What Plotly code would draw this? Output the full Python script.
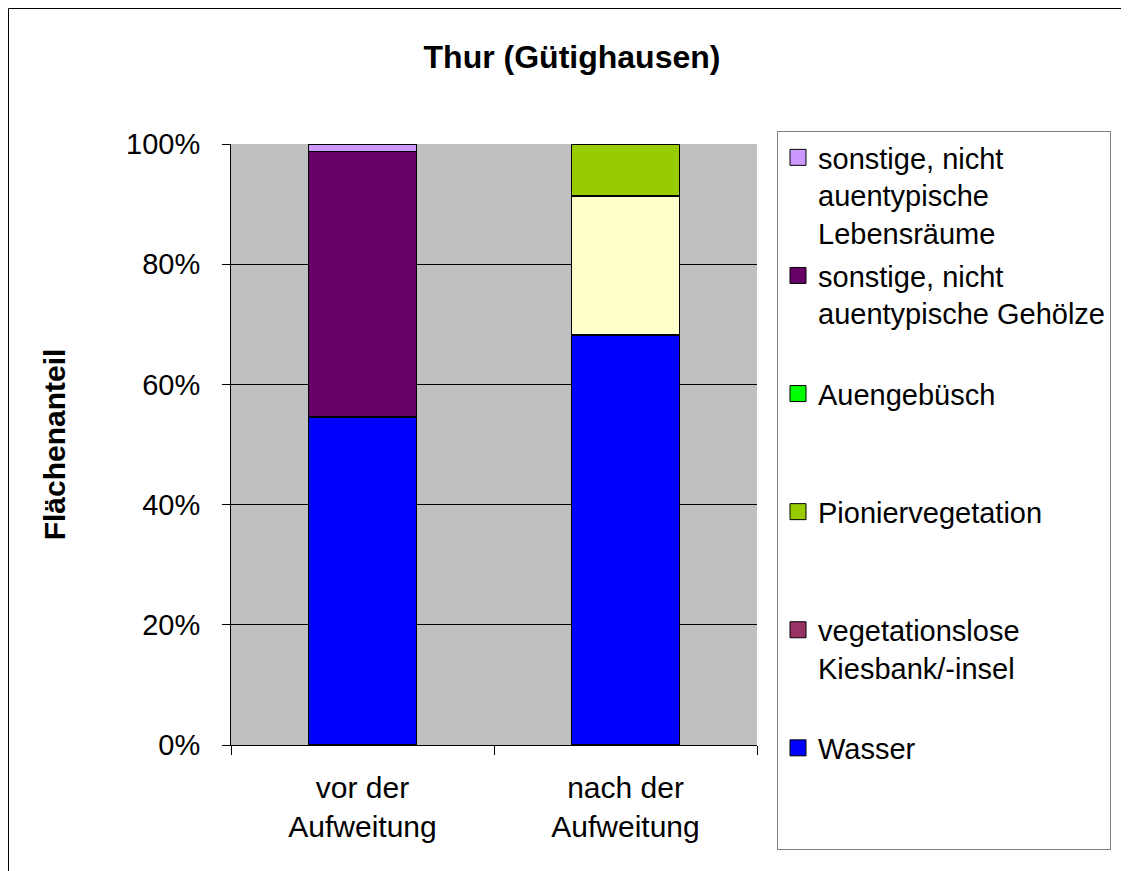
import plotly.graph_objects as go

categories = ["vor der<br>Aufweitung", "nach der<br>Aufweitung"]

# stacked shares in percent, bottom to top
wasser = [54.6, 68.2]
kiesbank = [0, 0]
unbezeichnet = [0, 23.15]
pionier = [0, 8.65]
auengebuesch = [0, 0]
gehoelze = [44.15, 0]
lebensraeume = [1.25, 0]

y_tickvals = [0, 20, 40, 60, 80, 100]
y_ticktext = ["0%", "20%", "40%", "60%", "80%", "100%"]

series = [
    ("Wasser", wasser, "#0000FF"),
    ("vegetationslose Kiesbank/-insel", kiesbank, "#993366"),
    ("nicht bezeichnet", unbezeichnet, "#FFFFCC"),
    ("Pioniervegetation", pionier, "#99CC00"),
    ("Auengebüsch", auengebuesch, "#00FF00"),
    ("sonstige, nicht auentypische Gehölze", gehoelze, "#660066"),
    ("sonstige, nicht auentypische Lebensräume", lebensraeume, "#CC99FF"),
]

legend_entries = [
    ("sonstige, nicht<br>auentypische<br>Lebensräume", "#CC99FF"),
    ("sonstige, nicht<br>auentypische Gehölze<br>&nbsp;", "#660066"),
    ("Auengebüsch<br>&nbsp;<br>&nbsp;", "#00FF00"),
    ("Pioniervegetation<br>&nbsp;<br>&nbsp;", "#99CC00"),
    ("vegetationslose<br>Kiesbank/-insel<br>&nbsp;", "#993366"),
    ("Wasser<br>&nbsp;<br>&nbsp;", "#0000FF"),
]

FONT = "Liberation Sans, Arial, sans-serif"

fig = go.Figure()
for name, vals, col in series:
    fig.add_trace(go.Bar(
        x=categories, y=vals, name=name, showlegend=False,
        marker=dict(color=col, line=dict(color="black", width=1.5)),
    ))

for i, (label, col) in enumerate(legend_entries):
    fig.add_trace(go.Scatter(
        x=[None], y=[None], mode="markers", name=label,
        legendgroup=f"g{i}",
        marker=dict(symbol="square", size=16, color=col,
                    line=dict(color="black", width=1)),
    ))

OFF = 8  # page body margin
W, H = 1121, 863
L, R, T, B = 223, 372, 136, 126
pw, ph = W - L - R, H - T - B

def px2x(px):
    return (px - OFF - L) / pw

def py2y(py):
    return (H - B - (py - OFF)) / ph

fig.add_shape(type="rect", xref="paper", yref="paper",
              x0=px2x(OFF + 0.5), x1=px2x(1160), y0=py2y(OFF + 0.5), y1=py2y(900),
              line=dict(color="black", width=1), layer="below")

fig.update_layout(
    width=W, height=H,
    margin=dict(l=L, r=R, t=T, b=B, autoexpand=False),
    barmode="stack", bargap=0.59,
    paper_bgcolor="white", plot_bgcolor="#C0C0C0",
    font=dict(family=FONT, color="black", size=29),
    title=dict(text="<b>Thur (Gütighausen)</b>", font=dict(size=32, family=FONT),
               xref="paper", x=px2x(572), xanchor="center",
               yref="container", y=1 - (57 - OFF) / H, yanchor="middle"),
    legend=dict(x=px2x(777), y=py2y(131), xanchor="left", yanchor="top",
                bordercolor="#808080", borderwidth=1, bgcolor="white",
                font=dict(size=29, family=FONT), valign="top",
                traceorder="grouped", tracegroupgap=2, maxheight=800),
    xaxis=dict(showline=True, linecolor="black", linewidth=1,
               ticks="outside", tickson="boundaries", ticklen=9, tickcolor="black",
               tickfont=dict(size=30), showgrid=False, ticklabelstandoff=16),
    yaxis=dict(range=[0, 100], tickvals=y_tickvals, ticktext=y_ticktext,
               showline=True, linecolor="black", linewidth=1,
               ticks="outside", ticklen=8, tickcolor="black",
               showgrid=True, gridcolor="black", gridwidth=1, zeroline=False,
               tickfont=dict(size=29), ticklabelstandoff=16,
               title=dict(text="<b>Flächenanteil</b>", font=dict(size=30), standoff=51)),
)

fig.write_html("out.html")
